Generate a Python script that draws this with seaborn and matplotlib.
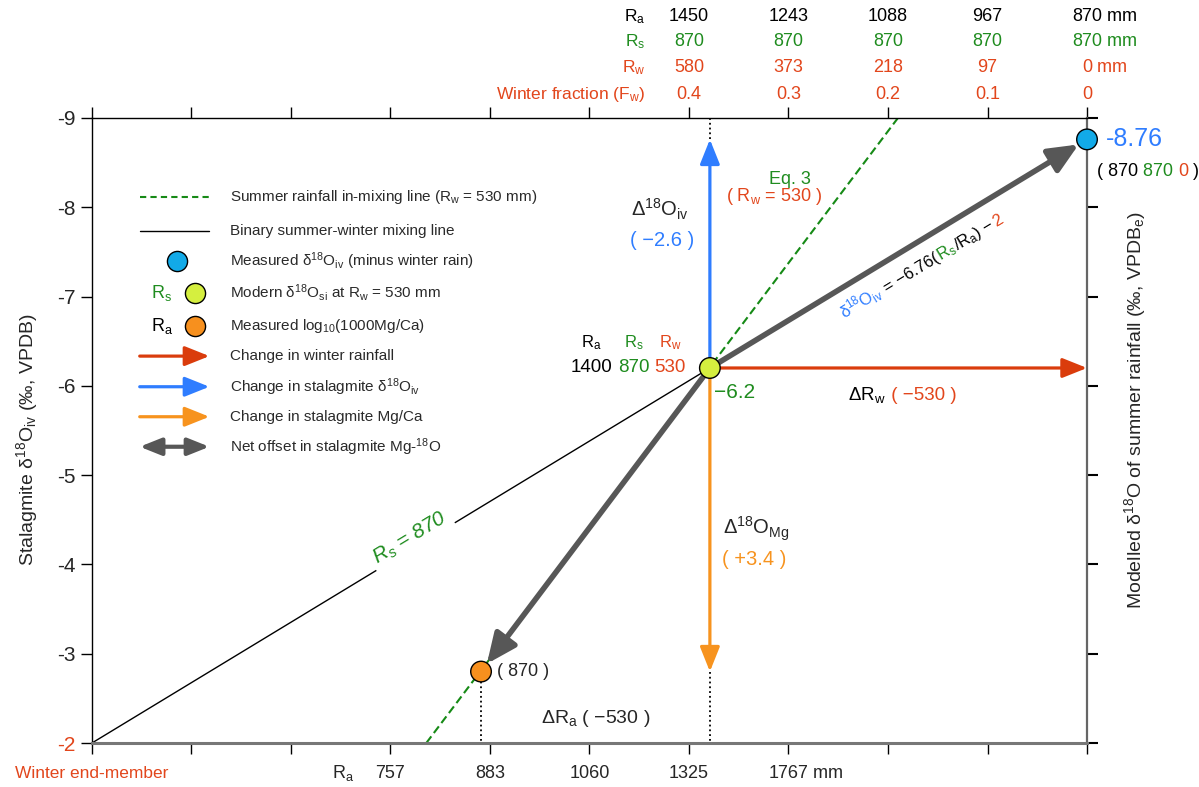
import numpy as np
import pandas as pd
import matplotlib
matplotlib.use('Agg')
import matplotlib.pyplot as plt
import matplotlib.transforms as mtransforms
import seaborn as sns

# three key points: measured d18O (blue), modern d18O (lime), Mg/Ca (orange)
point_names = ['measured', 'modern', 'mgca']
point_x = [10.0, 6.21, 3.91]
point_y = [-8.76, -6.2, -2.8]
point_colors = ['#12aae8', '#d5ef3f', '#f7901e']

# binary mixing line and summer in-mixing line
mix_x = [0.0, 6.21]
mix_y = [-2.0, -6.2]
inmix_x = [3.36, 8.10]
inmix_y = [-2.0, -9.0]

# top scale
top_x = [6, 7, 8, 9, 10]
top_ra = ['1450', '1243', '1088', '967', '870']
top_rs = ['870', '870', '870', '870', '870']
top_rw = ['580', '373', '218', '97', '0']
top_fw = ['0.4', '0.3', '0.2', '0.1', '0']

# bottom scale
bottom_x = [3, 4, 5, 6, 7]
bottom_ra = ['757', '883', '1060', '1325', '1767']

y_ticks = [-9, -8, -7, -6, -5, -4, -3, -2]
x_ticks = list(range(11))

RED = '#e2461c'
RED_ARROW = '#da3c0c'
GREEN = '#1f8c1f'
BLUE = '#2f7dff'
ORANGE = '#f7931e'
GRAY = '#575757'

sns.set_theme(style='white')
plt.rcParams['font.family'] = ['Liberation Sans', 'DejaVu Sans']
plt.rcParams['mathtext.fontset'] = 'custom'
plt.rcParams['mathtext.rm'] = 'Liberation Sans'
plt.rcParams['mathtext.it'] = 'Liberation Sans:italic'
plt.rcParams['axes.unicode_minus'] = False

fig = plt.figure(figsize=(11.99, 7.87), dpi=100)
ax = fig.add_axes([0.0767, 0.0559, 0.8299, 0.7942])
ax.set_xlim(0, 10)
ax.set_ylim(-2, -9)
r = fig.canvas.get_renderer()


def chain_text(x, y, pieces, size, angle=0.0, transform=None):
    # draw coloured pieces one after another along a baseline
    tr = transform if transform is not None else ax.transData
    x0, y0 = tr.transform((x, y))
    a = np.deg2rad(angle)
    pos = 0.0
    for s, c in pieces:
        t = ax.text(0, 0, s, color=c, fontsize=size,
                    transform=mtransforms.IdentityTransform(), ha='left', va='baseline',
                    rotation_mode='anchor')
        w = t.get_window_extent(r).width
        t.set_position((x0 + pos * np.cos(a), y0 + pos * np.sin(a)))
        t.set_rotation(angle)
        pos += w


def angle_of(xs, ys):
    p = ax.transData.transform(np.column_stack([xs, ys]))
    return np.degrees(np.arctan2(p[1, 1] - p[0, 1], p[1, 0] - p[0, 0]))


# lines
sns.lineplot(x=mix_x, y=mix_y, color='black', lw=1.0, sort=False, estimator=None, ax=ax, zorder=2)
sns.lineplot(x=inmix_x, y=inmix_y, color='#168a16', lw=1.5, sort=False,
             estimator=None, ax=ax, zorder=2, linestyle=(0, (4, 2)))

mx, my = point_x[1], point_y[1]

# dotted guides
ax.plot([mx, mx], [point_y[0], -9], color='black', ls=':', lw=1.3, zorder=1)
ax.plot([mx, mx], [point_y[2], -2], color='black', ls=':', lw=1.3, zorder=1)
ax.plot([point_x[2], point_x[2]], [point_y[2], -2], color='black', ls=':', lw=1.3, zorder=1)


def arrow(x0, y0, x1, y1, color, lw, hl, hw, shrink=0, style='-|>', coords='data'):
    ax.annotate('', xy=(x1, y1), xytext=(x0, y0), xycoords=coords, textcoords=coords,
                arrowprops=dict(arrowstyle=f'{style},head_length={hl},head_width={hw}',
                                color=color, lw=lw, shrinkA=0, shrinkB=shrink,
                                mutation_scale=20),
                zorder=3, annotation_clip=False)


arrow(mx, my, point_x[0], my, RED_ARROW, 2.3, 0.75, 0.3)
arrow(mx, my, mx, point_y[0], BLUE, 2.3, 0.75, 0.3)
arrow(mx, my, mx, point_y[2], ORANGE, 2.3, 0.75, 0.3)
arrow(mx, my, point_x[0], point_y[0], GRAY, 4.0, 0.9, 0.4, shrink=7)
arrow(mx, my, point_x[2], point_y[2], GRAY, 4.0, 0.9, 0.4, shrink=7)

pts = pd.DataFrame({'name': point_names, 'x': point_x, 'y': point_y})
sns.scatterplot(data=pts, x='x', y='y', hue='name', palette=dict(zip(point_names, point_colors)),
                s=220, edgecolor='black', linewidth=1.0, legend=False, ax=ax, zorder=5, clip_on=False)

# axes styling
ax.set_xticks(x_ticks)
ax.set_xticklabels([])
ax.set_yticks(y_ticks)
ax.set_yticklabels([str(v) for v in y_ticks], fontsize=15)
ax.get_yticklabels()[-1].set_color(RED)
ax.tick_params(axis='both', which='major', direction='out', length=8, width=1, color='black',
               top=True, right=True, bottom=True, left=True, labeltop=False, labelright=False, pad=4)
for t in ax.yaxis.get_major_ticks():
    t.tick2line.set_color('#666666')
    t.tick2line.set_markeredgewidth(1.5)
for sp in ['left', 'top']:
    ax.spines[sp].set_color('black')
    ax.spines[sp].set_linewidth(1.0)
ax.spines['right'].set_color('#666666')
ax.spines['right'].set_linewidth(1.6)
ax.spines['bottom'].set_color('#777777')
ax.spines['bottom'].set_linewidth(2.2)
ax.set_xlabel('')
ax.set_ylabel(r'Stalagmite $\mathregular{\delta^{18}O_{iv}}$ (‰, VPDB)', fontsize=14)
ax.yaxis.set_label_coords(-0.052, 0.485)
ax.text(1.048, 0.533, r'Modelled $\mathregular{\delta^{18}O}$ of summer rainfall (‰, $\mathregular{VPDB_e}$)',
        transform=ax.transAxes, rotation=90, fontsize=14, ha='center', va='center')

# top scale rows
btr = ax.get_xaxis_transform()
rows = [(top_ra, 'black', r'$\mathregular{R_a}$', 1.162, True),
        (top_rs, GREEN, r'$\mathregular{R_s}$', 1.122, True),
        (top_rw, RED, r'$\mathregular{R_w}$', 1.080, True),
        (top_fw, RED, r'Winter fraction ($\mathregular{F_w}$)', 1.037, False)]
for labels, col, head, yy, mm in rows:
    ax.text(5.56, yy, head, color=col, fontsize=12.5, ha='right', va='center', transform=btr)
    for i, (xv, lab) in enumerate(zip(top_x, labels)):
        t = ax.text(xv, yy, lab, color=col, fontsize=13, ha='center', va='center', transform=btr)
        if mm and i == len(labels) - 1:
            ax.annotate(' mm', xy=(1, 0), xycoords=t, va='bottom', ha='left', color=col,
                        fontsize=13)

# bottom scale
ax.text(0, -0.048, 'Winter end-member', color=RED, fontsize=12.5, ha='center', va='center',
        transform=btr)
ax.text(2.52, -0.048, r'$\mathregular{R_a}$', fontsize=13, ha='center', va='center', transform=btr)
for i, (xv, lab) in enumerate(zip(bottom_x, bottom_ra)):
    t = ax.text(xv, -0.048, lab, fontsize=13, ha='center', va='center', transform=btr)
    if i == len(bottom_ra) - 1:
        ax.annotate(' mm', xy=(1, 0), xycoords=t, va='bottom', ha='left', fontsize=13)

# legend (drawn by hand)
leg_y = [0.874, 0.819, 0.771, 0.720, 0.667, 0.619, 0.570, 0.522, 0.474]
lx0, lx1, ltx = 0.048, 0.118, 0.139
leg_labels = [r'Summer rainfall in-mixing line ($\mathregular{R_w}$ = 530 mm)',
              'Binary summer-winter mixing line',
              r'Measured $\mathregular{\delta^{18}O_{iv}}$ (minus winter rain)',
              r'Modern $\mathregular{\delta^{18}O_{si}}$ at $\mathregular{R_w}$ = 530 mm',
              r'Measured $\mathregular{log_{10}}$(1000Mg/Ca)',
              'Change in winter rainfall',
              r'Change in stalagmite $\mathregular{\delta^{18}O_{iv}}$',
              'Change in stalagmite Mg/Ca',
              r'Net offset in stalagmite Mg-$\mathregular{^{18}}$O']
for yy, lab in zip(leg_y, leg_labels):
    ax.text(ltx, yy, lab, transform=ax.transAxes, fontsize=11, va='center', ha='left', color='#2a2a2a')
ax.plot([lx0, lx1], [leg_y[0]] * 2, transform=ax.transAxes, color='#168a16', lw=1.5,
        ls=(0, (3, 2)), clip_on=False)
ax.plot([lx0, lx1], [leg_y[1]] * 2, transform=ax.transAxes, color='black', lw=1.0, clip_on=False)
ax.plot([0.0854], [leg_y[2]], 'o', ms=14.5, mfc=point_colors[0], mec='black', mew=1.0,
        transform=ax.transAxes, clip_on=False)
ax.plot([0.1035], [leg_y[3]], 'o', ms=14.5, mfc=point_colors[1], mec='black', mew=1.0,
        transform=ax.transAxes, clip_on=False)
ax.plot([0.1035], [leg_y[4]], 'o', ms=14.5, mfc=point_colors[2], mec='black', mew=1.0,
        transform=ax.transAxes, clip_on=False)
ax.text(0.0704, leg_y[3], r'$\mathregular{R_s}$', color=GREEN, fontsize=13, transform=ax.transAxes,
        ha='center', va='center')
ax.text(0.0704, leg_y[4], r'$\mathregular{R_a}$', color='black', fontsize=13, transform=ax.transAxes,
        ha='center', va='center')
arrow(lx0, leg_y[5], lx1, leg_y[5], RED_ARROW, 2.3, 0.75, 0.3, coords='axes fraction')
arrow(lx0, leg_y[6], lx1, leg_y[6], BLUE, 2.3, 0.75, 0.3, coords='axes fraction')
arrow(lx0, leg_y[7], lx1, leg_y[7], ORANGE, 2.3, 0.75, 0.3, coords='axes fraction')
arrow(lx0, leg_y[8], lx1, leg_y[8], GRAY, 3.0, 0.65, 0.26, style='<|-|>', coords='axes fraction')

# annotations around the modern point
hdr = [(5.02, r'$\mathregular{R_a}$', 'black', '1400'),
       (5.45, r'$\mathregular{R_s}$', GREEN, '870'),
       (5.81, r'$\mathregular{R_w}$', RED, '530')]
for xv, head, col, val in hdr:
    ax.text(xv, -6.48, head, color=col, fontsize=12, ha='center', va='center')
    ax.text(xv, -6.2, val, color=col, fontsize=13.5, ha='center', va='center')
ax.text(6.46, -5.92, '−6.2', color=GREEN, fontsize=15, ha='center', va='center')
chain_text(7.60, -5.84, [(r'$\mathregular{\Delta R_w}$', 'black'), (' ( −530 )', RED)], 13.5)

ax.text(7.01, -8.31, 'Eq. 3', color=GREEN, fontsize=13, ha='center', va='center')
ax.text(6.86, -8.12, r'( $\mathregular{R_w}$ = 530 )', color=RED, fontsize=13, ha='center',
        va='center')
ax.text(5.71, -7.98, r'$\mathregular{\Delta^{18}O_{iv}}$', fontsize=14.5, ha='center', va='center')
ax.text(5.73, -7.63, '( −2.6 )', color=BLUE, fontsize=14.5, ha='center', va='center')
ax.text(6.68, -4.40, r'$\mathregular{\Delta^{18}O_{Mg}}$', fontsize=14.5, ha='center', va='center')
ax.text(6.66, -4.06, '( +3.4 )', color=ORANGE, fontsize=14.5, ha='center', va='center')
ax.text(4.07, -2.8, '( 870 )', fontsize=13, ha='left', va='center')
ax.text(5.06, -2.28, r'$\mathregular{\Delta R_a}$ ( −530 )', fontsize=14, ha='center', va='center')

ax.text(10.19, -8.76, '-8.76', color=BLUE, fontsize=18, ha='left', va='center')
chain_text(10.10, -8.35, [('( 870 ', 'black'), ('870 ', GREEN), ('0', RED), (' )', 'black')], 13)

# rotated labels along the lines
ang_mix = angle_of(mix_x, mix_y)
ax.text(3.23, -4.24, r'$\mathit{R_s}$ = 870', color=GREEN, fontsize=15, style='italic',
        rotation=ang_mix, rotation_mode='anchor', ha='center', va='baseline',
        bbox=dict(facecolor='white', edgecolor='none', pad=3), zorder=2.5)
ang_eq = angle_of([mx, point_x[0]], [my, point_y[0]])
chain_text(7.56, -6.74, [(r'$\mathregular{\delta^{18}O_{iv}}$', BLUE), (' = −6.76(', 'black'),
                         (r'$\mathregular{R_s}$', GREEN), (r'/$\mathregular{R_a}$) − ', 'black'),
                         ('2', RED)], 12, angle=ang_eq)

fig.savefig('out.png', dpi=100)
